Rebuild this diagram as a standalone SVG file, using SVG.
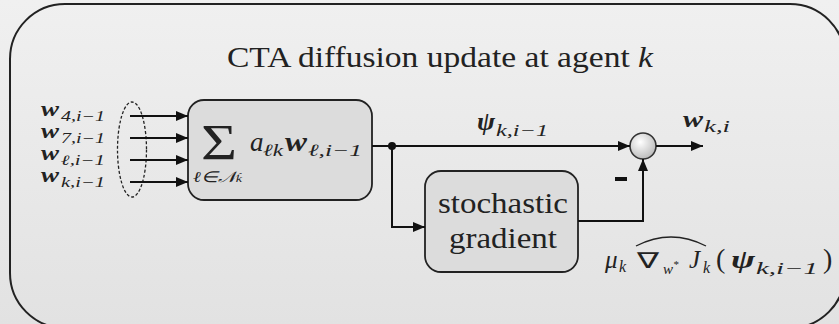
<svg xmlns="http://www.w3.org/2000/svg" width="839" height="324" viewBox="0 0 839 324">
  <defs>
    <linearGradient id="bg" x1="0" y1="0" x2="0" y2="1">
      <stop offset="0" stop-color="#f0f0f0"/>
      <stop offset="1" stop-color="#e2e2e2"/>
    </linearGradient>
    <radialGradient id="sumBall" cx="0.4" cy="0.35" r="0.7">
      <stop offset="0" stop-color="#ffffff"/>
      <stop offset="1" stop-color="#b8b8b8"/>
    </radialGradient>
    <marker id="arrow" viewBox="0 0 12 10" refX="12" refY="5" markerWidth="12" markerHeight="10" markerUnits="userSpaceOnUse" orient="auto">
      <path d="M0,0 L12,5 L0,10 Z" fill="#111"/>
    </marker>
  </defs>
  <style>
    .frame { fill: none; stroke: #222; stroke-width: 2; }
    .block { fill: #dcdcdc; stroke: #222; stroke-width: 1.8; }
    .wire { fill: none; stroke: #111; stroke-width: 2; }
    .arr { marker-end: url(#arrow); }
  </style>

  <!-- background -->
  <rect x="0" y="0" width="839" height="324" fill="url(#bg)"/>

  <!-- outer frame -->
  <rect class="frame" x="10" y="4" width="835" height="324" rx="55" ry="55"/>

  <!-- title -->
  <text font-family="Liberation Serif" fill="#222" x="227" y="67" font-size="30" textLength="426" lengthAdjust="spacingAndGlyphs">CTA diffusion update at agent <tspan font-style="italic">k</tspan></text>

  <!-- input labels -->
  <g id="inputs" fill="#222">
    <text font-family="Liberation Serif" x="41" y="116" font-size="20" font-style="italic" font-weight="bold" textLength="18" lengthAdjust="spacingAndGlyphs">w</text>
    <text font-family="Liberation Serif" x="61" y="121" font-size="14" font-style="italic" textLength="44" lengthAdjust="spacingAndGlyphs">4,i−1</text>
    <text font-family="Liberation Serif" x="41" y="138" font-size="20" font-style="italic" font-weight="bold" textLength="18" lengthAdjust="spacingAndGlyphs">w</text>
    <text font-family="Liberation Serif" x="61" y="143" font-size="14" font-style="italic" textLength="44" lengthAdjust="spacingAndGlyphs">7,i−1</text>
    <text font-family="Liberation Serif" x="41" y="160" font-size="20" font-style="italic" font-weight="bold" textLength="18" lengthAdjust="spacingAndGlyphs">w</text>
    <text font-family="Liberation Serif" x="61" y="165" font-size="14" font-style="italic" textLength="44" lengthAdjust="spacingAndGlyphs">ℓ,i−1</text>
    <text font-family="Liberation Serif" x="41" y="182" font-size="20" font-style="italic" font-weight="bold" textLength="18" lengthAdjust="spacingAndGlyphs">w</text>
    <text font-family="Liberation Serif" x="61" y="187" font-size="14" font-style="italic" textLength="44" lengthAdjust="spacingAndGlyphs">k,i−1</text>
    <ellipse cx="132" cy="149.5" rx="14.5" ry="47.5" fill="none" stroke="#222" stroke-width="1.3" stroke-dasharray="3 2"/>
  </g>

  <!-- combination block -->
  <g id="combine" fill="#222">
    <rect class="block" x="188" y="100" width="184" height="100" rx="16" ry="16"/>
    <text font-family="Liberation Serif" x="201" y="159" font-size="50" textLength="36" lengthAdjust="spacingAndGlyphs">Σ</text>
    <text font-family="Liberation Serif" font-style="italic" x="193" y="182" font-size="15" textLength="49" lengthAdjust="spacingAndGlyphs">ℓ∈𝒩<tspan font-size="11">k</tspan></text>
    <text font-family="Liberation Serif" font-style="italic" x="250" y="151" font-size="27">a</text>
    <text font-family="Liberation Serif" font-style="italic" x="263" y="156" font-size="17" textLength="20" lengthAdjust="spacingAndGlyphs">ℓk</text>
    <text font-family="Liberation Serif" font-style="italic" font-weight="bold" x="285" y="151" font-size="27" textLength="22" lengthAdjust="spacingAndGlyphs">w</text>
    <text font-family="Liberation Serif" font-style="italic" x="308" y="156" font-size="17" textLength="54" lengthAdjust="spacingAndGlyphs">ℓ,i−1</text>
  </g>

  <!-- stochastic gradient block -->
  <g id="gradient" fill="#222">
    <rect class="block" x="425" y="171" width="153" height="101" rx="16" ry="16"/>
    <text font-family="Liberation Serif" x="503" y="213" font-size="30" text-anchor="middle" textLength="130" lengthAdjust="spacingAndGlyphs">stochastic</text>
    <text font-family="Liberation Serif" x="503" y="248" font-size="30" text-anchor="middle" textLength="108" lengthAdjust="spacingAndGlyphs">gradient</text>
  </g>

  <!-- signal labels -->
  <g id="labels" fill="#222">
    <text font-family="Liberation Serif" font-style="italic" font-weight="bold" x="477" y="130" font-size="26" textLength="18" lengthAdjust="spacingAndGlyphs">ψ</text>
    <text font-family="Liberation Serif" font-style="italic" x="496" y="136" font-size="17" textLength="52" lengthAdjust="spacingAndGlyphs">k,i−1</text>
    <text font-family="Liberation Serif" font-style="italic" font-weight="bold" x="683" y="127" font-size="24" textLength="20" lengthAdjust="spacingAndGlyphs">w</text>
    <text font-family="Liberation Serif" font-style="italic" x="704" y="132" font-size="16" textLength="26" lengthAdjust="spacingAndGlyphs">k,i</text>

    <text font-family="Liberation Serif" font-style="italic" x="605" y="268" font-size="25">μ</text>
    <text font-family="Liberation Serif" font-style="italic" x="619" y="272" font-size="16">k</text>
    <text font-family="DejaVu Sans" x="637" y="268" font-size="22" textLength="22" lengthAdjust="spacingAndGlyphs">∇</text>
    <text font-family="Liberation Serif" font-style="italic" x="663" y="274" font-size="15">w<tspan font-size="11" dy="-6">*</tspan></text>
    <text font-family="Liberation Serif" font-style="italic" x="689" y="268" font-size="25">J</text>
    <text font-family="Liberation Serif" font-style="italic" x="703" y="273" font-size="16">k</text>
    <text font-family="Liberation Serif" x="716" y="268" font-size="28">(</text>
    <text font-family="Liberation Serif" font-style="italic" font-weight="bold" x="731" y="268" font-size="26" textLength="24" lengthAdjust="spacingAndGlyphs">ψ</text>
    <text font-family="Liberation Serif" font-style="italic" x="756" y="274" font-size="17" textLength="62" lengthAdjust="spacingAndGlyphs">k,i−1</text>
    <text font-family="Liberation Serif" x="823" y="268" font-size="28">)</text>
  </g>

  <!-- hat over the gradient estimate -->
  <path d="M636,246 Q671,228 706,246" fill="none" stroke="#222" stroke-width="1.4"/>

  <!-- summation node -->
  <g id="adder">
    <circle cx="643" cy="146" r="13" fill="url(#sumBall)" stroke="#333" stroke-width="1.6"/>
  </g>

  <!-- connectors -->
  <g id="connectors">
    <line class="wire arr" x1="130" y1="116" x2="188" y2="116"/>
    <line class="wire arr" x1="130" y1="138" x2="188" y2="138"/>
    <line class="wire arr" x1="130" y1="160" x2="188" y2="160"/>
    <line class="wire arr" x1="130" y1="182" x2="188" y2="182"/>
    <line class="wire" x1="372" y1="146" x2="392" y2="146"/>
    <circle cx="392" cy="146" r="4" fill="#111"/>
    <line class="wire arr" x1="392" y1="146" x2="630" y2="146"/>
    <polyline class="wire arr" points="392,146 392,227 425,227"/>
    <polyline class="wire arr" points="578,221 643,221 643,159"/>
    <line class="wire arr" x1="656" y1="146" x2="703" y2="146"/>
    <rect x="615" y="177" width="12" height="4" fill="#111"/>
  </g>
</svg>
